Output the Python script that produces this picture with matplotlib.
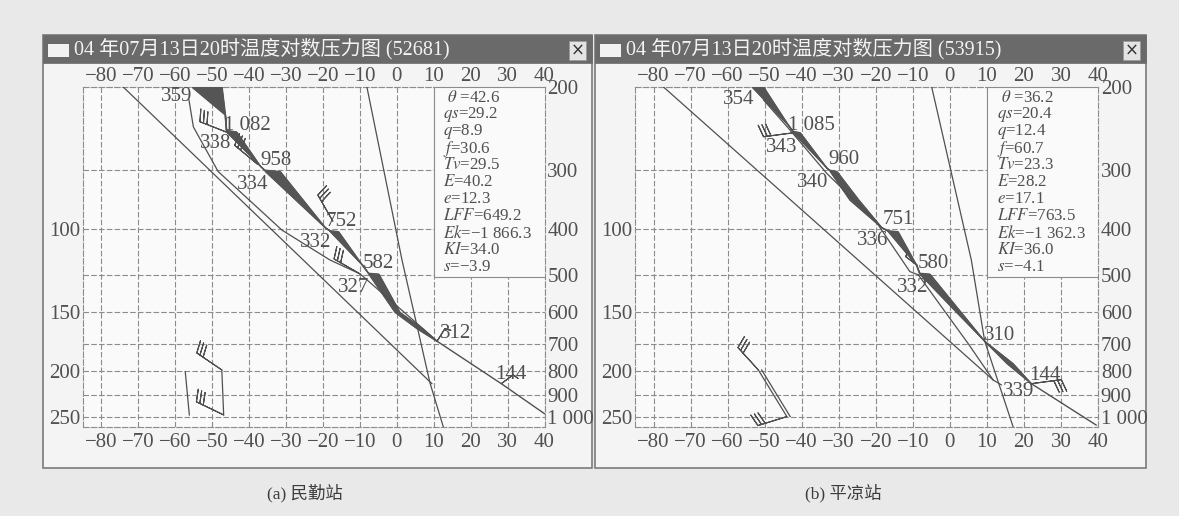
import numpy as np
import matplotlib.pyplot as plt
from matplotlib.patches import Rectangle
from matplotlib.ticker import NullLocator

plt.rcParams['font.family'] = ['Liberation Serif', 'Noto Sans CJK SC']
plt.rcParams['mathtext.fontset'] = 'stix'

W, H = 1179, 516
ink = '#505050'
grid_c = '#8c8c8c'

# axes values
temps = [-80, -70, -60, -50, -40, -30, -20, -10, 0, 10, 20, 30, 40]
press = [200, 300, 400, 500, 600, 700, 800, 900, 1000]
press_lbl = ['200', '300', '400', '500', '600', '700', '800', '900', '1 000']
left_lbl = ['', '', '100', '', '150', '', '200', '', '250']

stat_names = [r' $\theta$ ', r'$qs$', r'$q$', r'$f$', r'$Tv$', r'$E$', r'$e$',
              r'$LFF$', r'$Ek$', r'$KI$', r'$s$']
stats_a = ['42.6', '29.2', '8.9', '30.6', '29.5', '40.2', '12.3', '649.2',
           '\u22121 866.3', '34.0', '\u22123.9']
stats_b = ['36.2', '20.4', '12.4', '60.7', '23.3', '28.2', '17.1', '763.5',
           '\u22121 362.3', '36.0', '\u22124.1']

titles = ['04 年07月13日20时温度对数压力图 (52681)',
          '04 年07月13日20时温度对数压力图 (53915)']
captions = ['(a) 民勤站', '(b) 平凉站']

# ---------- (a) 52681
band_p_a = [200, 229, 247, 249, 294, 300, 302, 397, 403, 405, 476, 496, 498, 600, 650, 691]
band_lo_a = [-55.5, -46.5, -46.2, -46.1, -37.0, -35.8, -35.6, -19.4, -18.2, -18.0,
             -9.4, -7.7, -7.6, -0.5, 5.5, 10.9]
band_hi_a = [-47.4, -46.5, -46.2, -43.4, -37.0, -35.8, -31.6, -19.4, -18.2, -15.8,
             -9.4, -7.7, -4.9, 0.8, 7.0, 10.9]
low_p_a = [691, 850, 984]
low_T_a = [10.9, 28.3, 40.0]
lineA_p_a = [200, 850]
lineA_T_a = [-74.1, 9.5]
dew_p_a = [213, 243, 302, 402, 465, 498, 633, 691]
dew_T_a = [-56.3, -55.1, -48.4, -31.1, -18.1, -9.9, 5.4, 10.9]
steep_p_a = [200, 465, 848, 1050]
steep_T_a = [-8.1, 1.4, 9.0, 12.6]
stick_p_a = [795, 990]
stick_T_a = [-47.4, -46.9]
stick2_p_a = [802, 990]
stick2_T_a = [-57.3, -56.2]

lbl_a = ['359', '1 082', '338', '958', '334', '752', '332', '582', '327', '312', '144']
lbl_T_a = [-59.6, -40.6, -49.0, -32.8, -39.0, -14.9, -21.9, -5.0, -11.8, 15.8, 31.0]
lbl_p_a = [209, 241, 263, 286, 322, 386, 426, 474, 531, 667, 811]

barb_T_a = [-45.7, -37.6, -17.3, -9.9, -47.4, -46.9]
barb_p_a = [250, 292, 385, 498, 795, 990]
barb_u_a = [28, 23, 15, 26, 25, 27]
barb_v_a = [-11, -19, -26, -15, -17, -13]
sbarb_T_a = [10.9, 28.3]
sbarb_p_a = [691, 850]
sbarb_u_a = [-5, -8]
sbarb_v_a = [-8, -6]

# ---------- (b) 53915
band_p_b = [200, 241, 248, 250, 297, 300, 302, 347, 397, 403, 405, 477, 496, 498,
            600, 691, 770, 850]
band_lo_b = [-53.4, -43.6, -42.4, -42.2, -33.2, -32.5, -32.3, -27.0, -18.4, -16.8,
             -16.6, -9.0, -8.2, -8.1, 1.8, 9.4, 15.4, 22.0]
band_hi_b = [-50.3, -43.6, -42.4, -40.4, -33.2, -32.5, -30.5, -24.6, -18.4, -16.8,
             -14.0, -9.0, -8.2, -5.4, 3.0, 9.4, 17.0, 22.0]
low_p_b = [850, 1040]
low_T_b = [22.0, 39.5]
lineA_p_b = [200, 835, 855]
lineA_T_b = [-77.3, 11.7, 13.9]
dew_p_b = [213, 247, 305, 383, 492, 500]
dew_T_b = [-50.3, -43.1, -33.2, -20.2, -10.8, -8.5]
lineB_p_b = [500, 700, 835]
lineB_T_b = [-8.5, 5.0, 11.7]
steep_p_b = [200, 465, 690, 1050]
steep_T_b = [-4.9, 5.8, 9.4, 17.1]
stick_p_b = [795, 998]
stick_T_b = [-51.7, -44.0]
stick2_p_b = [795, 998]
stick2_T_b = [-50.8, -43.1]

lbl_b = ['354', '1 085', '343', '960', '340', '751', '336', '580', '332', '310', '144', '339']
lbl_T_b = [-57.1, -37.5, -45.3, -28.5, -37.0, -13.9, -20.8, -4.5, -10.1, 13.3, 25.6, 18.6]
lbl_p_b = [213, 241, 269, 285, 318, 382, 422, 474, 531, 672, 817, 884]

barb_T_b = [-42.2, 22.0, -51.7, -44.0]
barb_p_b = [250, 850, 795, 998]
barb_u_b = [30, -30, 20, 29]
barb_v_b = [4, -4, -22, 9]
sbarb_T_b = [-9.0]
sbarb_p_b = [477]
sbarb_u_b = [8]
sbarb_v_b = [-6]

fig = plt.figure(figsize=(W / 100, H / 100), dpi=100)
fig.patch.set_facecolor('#e9e9e9')


def window(x0, x1, title, caption, cap_x):
    # window frame, title bar, icon and close box (pixel coords)
    fig.patches.append(Rectangle((x0 / W, 1 - 468 / H), (x1 - x0) / W, 433 / H,
                                 transform=fig.transFigure, fc='#f4f4f4',
                                 ec='#7a7a7a', lw=1.2, zorder=-5))
    fig.patches.append(Rectangle((x0 / W, 1 - 63 / H), (x1 - x0) / W, 28 / H,
                                 transform=fig.transFigure, fc='#6a6a6a',
                                 ec='#6a6a6a', lw=0.5, zorder=-4))
    fig.patches.append(Rectangle(((x0 + 5) / W, 1 - 57 / H), 21 / W, 13 / H,
                                 transform=fig.transFigure, fc='#f2f2f2',
                                 ec='none', zorder=-3))
    fig.patches.append(Rectangle(((x1 - 23) / W, 1 - 60 / H), 17 / W, 19 / H,
                                 transform=fig.transFigure, fc='#e4e4e4',
                                 ec='#9a9a9a', lw=0.6, zorder=-3))
    fig.text((x1 - 14.5) / W, 1 - 50.5 / H, '×', ha='center', va='center',
             fontsize=12, color='#333333', family=['DejaVu Sans'])
    fig.text((x0 + 31) / W, 1 - 49 / H, title, ha='left', va='center',
             fontsize=14.5, color='#f4f4f4')
    fig.text(cap_x / W, 1 - 493 / H, caption, ha='center',
             va='center', fontsize=12.5, color='#3c3c3c')


def panel(ax, band_p, band_lo, band_hi, low_p, low_T, thin, lbl, lbl_T, lbl_p,
          barbs, sbarbs, stats):
    ax.set_facecolor('#fafafa')
    ax.set_yscale('log')
    ax.set_xlim(-85, 40)
    ax.set_ylim(1050, 200)
    ax.set_xticks(temps)
    ax.set_yticks(press, labels=left_lbl)
    ax.yaxis.set_minor_locator(NullLocator())
    ax.grid(True, color=grid_c, lw=0.8, ls=(0, (5, 2)))
    ax.set_axisbelow(True)
    ax.tick_params(length=0, labelsize=15, labelcolor=ink)
    ax.tick_params(axis='x', pad=4)
    ax.tick_params(axis='y', pad=2)
    for s in ax.spines.values():
        s.set_color(grid_c)
        s.set_linewidth(0.8)
        s.set_linestyle((0, (5, 2)))

    top = ax.secondary_xaxis('top')
    top.set_xticks(temps)
    top.tick_params(length=0, pad=1, labelsize=15, labelcolor=ink)
    top.spines['top'].set_visible(False)
    right = ax.secondary_yaxis('right')
    right.set_yticks(press, labels=press_lbl)
    right.yaxis.set_minor_locator(NullLocator())
    right.tick_params(length=0, pad=2, labelsize=15, labelcolor=ink)
    right.spines['right'].set_visible(False)

    # info box
    ax.add_patch(Rectangle((10, 200), 30, 305, fc='#fafafa', ec=grid_c,
                           lw=0.8, zorder=3))
    for i, (n, v) in enumerate(zip(stat_names, stats)):
        ax.text(0.781, 0.968 - i * 0.0497, n + '=' + v, transform=ax.transAxes,
                ha='left', va='center', fontsize=12.2, color=ink, zorder=5)

    ax.fill_betweenx(band_p, band_lo, band_hi, color='#555555', lw=0.8, zorder=4)
    ax.plot(band_lo, band_p, color='#555555', lw=0.9, zorder=4)
    ax.plot(band_hi, band_p, color='#555555', lw=0.9, zorder=4)
    ax.plot(low_T, low_p, color=ink, lw=1.0, zorder=4)
    for T, p in thin:
        ax.plot(T, p, color=ink, lw=0.9, zorder=4)
    ax.barbs(*barbs, length=6.6, color=ink, lw=0.8, zorder=4)
    ax.barbs(*sbarbs, length=4.6, color=ink, lw=0.8, zorder=4)
    for s, T, p in zip(lbl, lbl_T, lbl_p):
        ax.text(T, p, s, ha='center', va='center', fontsize=15, color=ink,
                zorder=5)


window(43, 592, titles[0], captions[0], 305)
window(595, 1146, titles[1], captions[1], 843)

axL = fig.add_axes([83 / W, 89 / H, 461.5 / W, 340 / H])
axR = fig.add_axes([635 / W, 89 / H, 463 / W, 340 / H])

panel(axL, band_p_a, band_lo_a, band_hi_a, low_p_a, low_T_a,
      [(lineA_T_a, lineA_p_a), (dew_T_a, dew_p_a), (steep_T_a, steep_p_a),
       (stick_T_a, stick_p_a), (stick2_T_a, stick2_p_a)],
      lbl_a, lbl_T_a, lbl_p_a,
      (barb_T_a, barb_p_a, barb_u_a, barb_v_a),
      (sbarb_T_a, sbarb_p_a, sbarb_u_a, sbarb_v_a), stats_a)
panel(axR, band_p_b, band_lo_b, band_hi_b, low_p_b, low_T_b,
      [(lineA_T_b, lineA_p_b), (dew_T_b, dew_p_b), (lineB_T_b, lineB_p_b),
       (steep_T_b, steep_p_b), (stick_T_b, stick_p_b), (stick2_T_b, stick2_p_b)],
      lbl_b, lbl_T_b, lbl_p_b,
      (barb_T_b, barb_p_b, barb_u_b, barb_v_b),
      (sbarb_T_b, sbarb_p_b, sbarb_u_b, sbarb_v_b), stats_b)

fig.savefig('out.png', dpi=100, facecolor=fig.get_facecolor())
